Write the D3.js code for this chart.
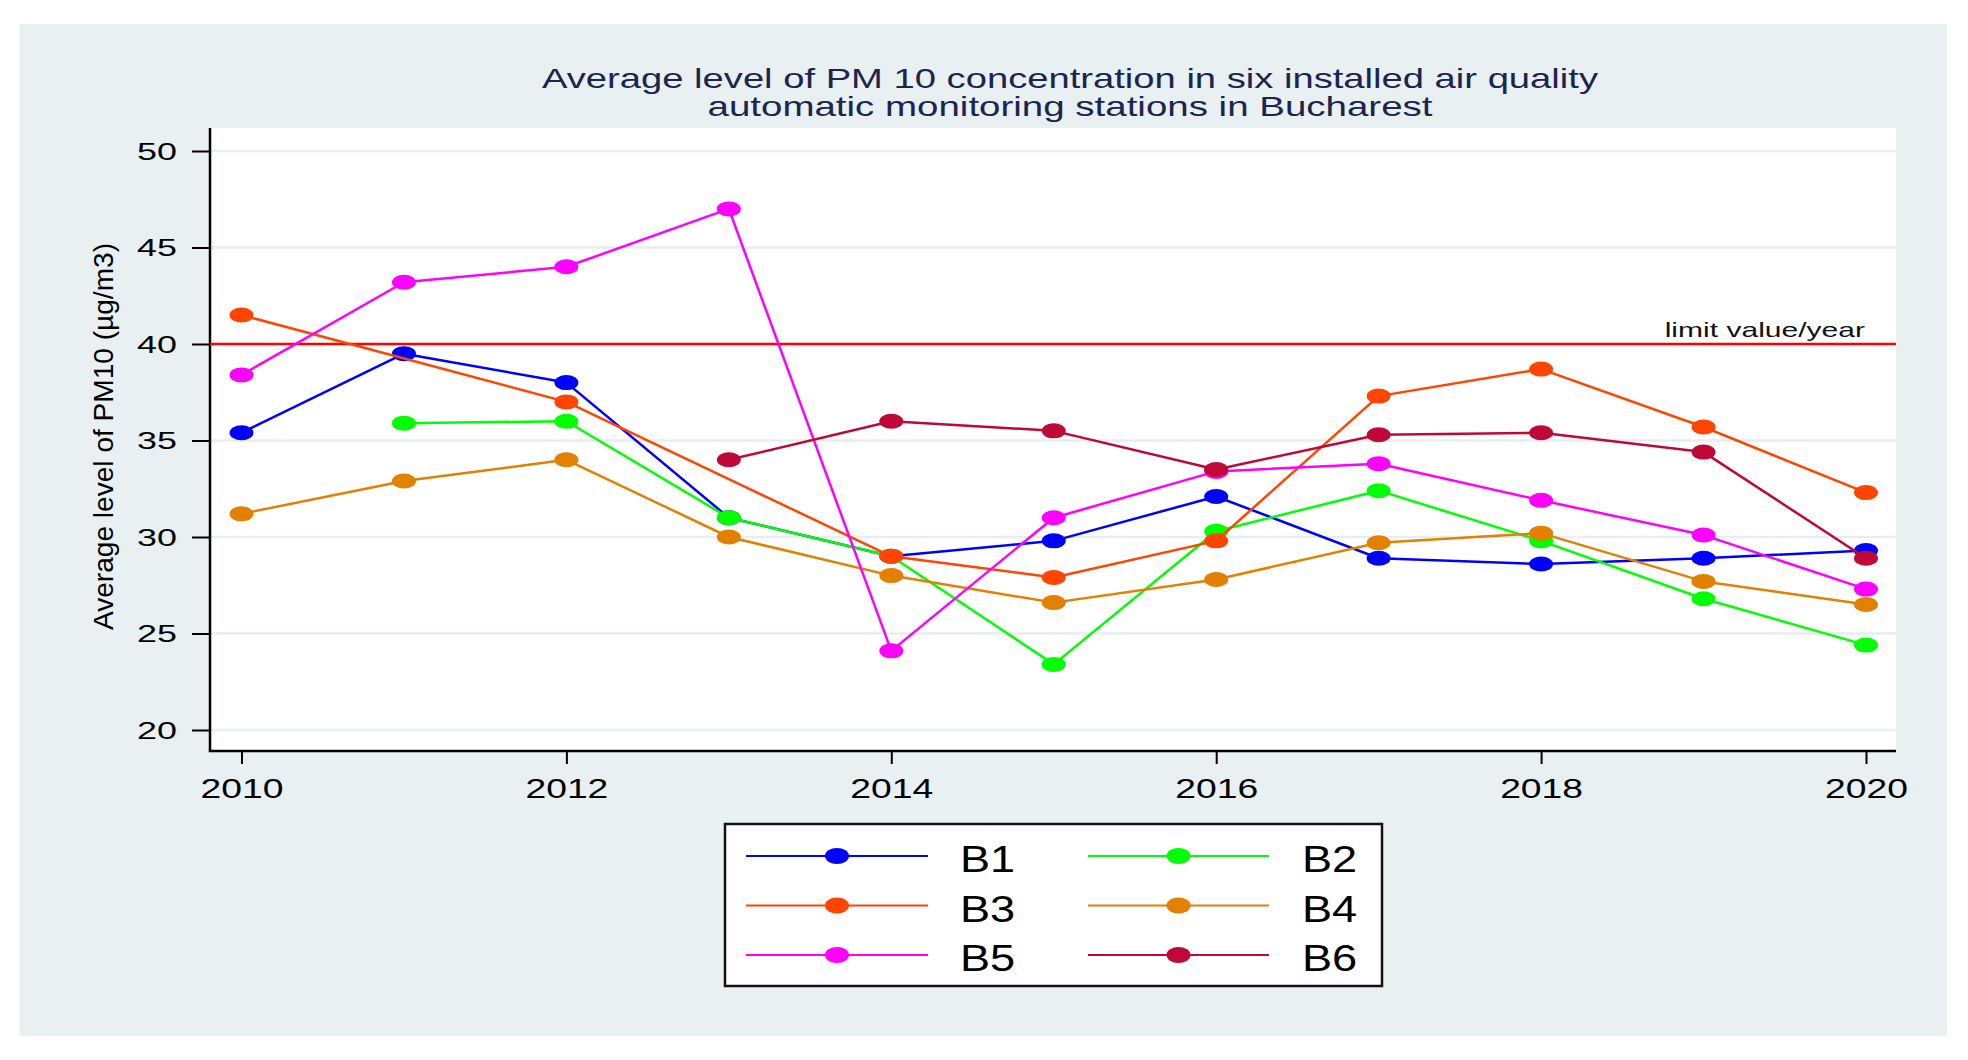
<!DOCTYPE html>
<html>
<head>
<meta charset="utf-8">
<script src="https://cdnjs.cloudflare.com/ajax/libs/d3/7.8.5/d3.min.js"></script>
<style>
  body { margin: 0; background: #fff; }
  svg { display: block; font-family: Arial, 'Liberation Sans', sans-serif; }
</style>
</head>
<body>
<svg id="chart" width="1968" height="1060"></svg>
<script>
const years = [2010, 2011, 2012, 2013, 2014, 2015, 2016, 2017, 2018, 2019, 2020];
const b1 = [35.4, 39.5, 38.0, 31.0, 29.0, 29.8, 32.1, 28.9, 28.6, 28.9, 29.3];
const b2 = [null, 35.9, 36.0, 31.0, 29.0, 23.4, 30.3, 32.4, 29.8, 26.8, 24.4];
const b3 = [41.5, null, 37.0, null, 29.0, 27.9, 29.8, 37.3, 38.7, 35.7, 32.3];
const b4 = [31.2, 32.9, 34.0, 30.0, 28.0, 26.6, 27.8, 29.7, 30.2, 27.7, 26.5];
const b5 = [38.4, 43.2, 44.0, 47.0, 24.1, 31.0, 33.4, 33.8, 31.9, 30.1, 27.3];
const b6 = [null, null, null, 34.0, 36.0, 35.5, 33.5, 35.3, 35.4, 34.4, 28.9];

const seriesNames = ['B1', 'B2', 'B3', 'B4', 'B5', 'B6'];
const seriesValues = [b1, b2, b3, b4, b5, b6];
const seriesColors = ['#0000ff', '#00ff00', '#ff4500', '#e38000', '#ff00ff', '#c00838'];

const xTicks = [2010, 2012, 2014, 2016, 2018, 2020];
const yTicks = [20, 25, 30, 35, 40, 45, 50];
const limitValue = 40;
const limitLabel = 'limit value/year';
const titleLines = [
  'Average level of PM 10 concentration in six installed air quality',
  'automatic monitoring stations in Bucharest'
];
const yLabel = 'Average level of PM10 (\u00b5g/m3)';

let svg = d3.select('#chart');

// widen text the way the source picture is stretched
let stretch = function (sel, k) {
  sel.each(function () {
    let w = this.getComputedTextLength();
    d3.select(this)
      .attr('textLength', w * k)
      .attr('lengthAdjust', 'spacingAndGlyphs');
  });
};

let plot = { left: 210, right: 1896, top: 128, bottom: 751 };

let x = d3.scaleLinear().domain([2010, 2020]).range([241.5, 1866]);
let y = d3.scaleLinear().domain([20, 50]).range([730, 151]);

// backgrounds
svg.append('rect')
  .attr('x', 20).attr('y', 24)
  .attr('width', 1927).attr('height', 1012)
  .attr('fill', '#e8f0f2');

svg.append('rect')
  .attr('x', plot.left).attr('y', plot.top)
  .attr('width', plot.right - plot.left).attr('height', plot.bottom - plot.top)
  .attr('fill', '#ffffff');

// title
svg.append('g')
  .selectAll('text')
  .data(titleLines)
  .join('text')
  .attr('x', 1070)
  .attr('y', (d, i) => 88 + i * 28)
  .attr('text-anchor', 'middle')
  .attr('font-size', 28)
  .attr('fill', '#1c2550')
  .attr('textLength', (d, i) => i === 0 ? 1056 : 725)
  .attr('lengthAdjust', 'spacingAndGlyphs')
  .text(d => d);

// grid
svg.append('g')
  .selectAll('line')
  .data(yTicks)
  .join('line')
  .attr('x1', plot.left).attr('x2', plot.right)
  .attr('y1', d => y(d)).attr('y2', d => y(d))
  .attr('stroke', '#e6eef1')
  .attr('stroke-width', 2.5);

// axes
let yAxis = svg.append('g')
  .attr('transform', 'translate(' + plot.left + ',0)')
  .call(d3.axisLeft(y).tickValues(yTicks).tickSize(18).tickPadding(15));

yAxis.select('.domain').remove();
yAxis.selectAll('line').attr('stroke', '#000').attr('stroke-width', 2);
yAxis.selectAll('text')
  .attr('font-size', 23)
  .attr('font-family', 'Arial, Liberation Sans, sans-serif')
  .attr('fill', '#000')
  .attr('dy', '0.36em')
  .call(stretch, 1.56);

let xAxis = svg.append('g')
  .attr('transform', 'translate(0,' + plot.bottom + ')')
  .call(d3.axisBottom(x).tickValues(xTicks).tickFormat(d3.format('d')).tickSize(13).tickPadding(15));

xAxis.select('.domain').remove();
xAxis.selectAll('line').attr('stroke', '#000').attr('stroke-width', 2);
xAxis.selectAll('text')
  .attr('font-size', 27)
  .attr('font-family', 'Arial, Liberation Sans, sans-serif')
  .attr('fill', '#000')
  .call(stretch, 1.38);

svg.append('path')
  .attr('d', 'M' + plot.left + ',' + plot.top + 'V' + plot.bottom + 'H' + plot.right)
  .attr('fill', 'none')
  .attr('stroke', '#000')
  .attr('stroke-width', 2.5);

svg.append('text')
  .attr('transform', 'translate(113,' + 436.5 + ') rotate(-90)')
  .attr('text-anchor', 'middle')
  .attr('font-size', 27)
  .attr('fill', '#000')
  .attr('textLength', 387)
  .attr('lengthAdjust', 'spacingAndGlyphs')
  .text(yLabel);

// limit value line
svg.append('line')
  .attr('x1', plot.left).attr('x2', plot.right)
  .attr('y1', y(limitValue)).attr('y2', y(limitValue))
  .attr('stroke', '#ff0000')
  .attr('stroke-width', 2.5);

svg.append('text')
  .attr('x', 1865)
  .attr('y', y(limitValue) - 7)
  .attr('text-anchor', 'end')
  .attr('font-size', 21)
  .attr('fill', '#111')
  .text(limitLabel)
  .call(stretch, 1.43);

// series
let line = d3.line().x(d => x(d.year)).y(d => y(d.value));

let series = seriesNames.map((name, i) => ({
  name: name,
  color: seriesColors[i],
  points: years.map((yr, j) => ({ year: yr, value: seriesValues[i][j] }))
    .filter(d => d.value !== null)
}));

series.forEach(s => {
  let g = svg.append('g');

  g.append('path')
    .datum(s.points)
    .attr('d', line)
    .attr('fill', 'none')
    .attr('stroke', s.color)
    .attr('stroke-width', 2.5)
    .attr('stroke-linejoin', 'round');

  g.selectAll('ellipse')
    .data(s.points)
    .join('ellipse')
    .attr('cx', d => x(d.year))
    .attr('cy', d => y(d.value))
    .attr('rx', 12)
    .attr('ry', 7.5)
    .attr('fill', s.color);
});

// legend
let legend = svg.append('g');

legend.append('rect')
  .attr('x', 725).attr('y', 824)
  .attr('width', 657).attr('height', 162)
  .attr('fill', '#fff')
  .attr('stroke', '#111')
  .attr('stroke-width', 2.5);

let cols = [{ x1: 746, x2: 928, label: 960 }, { x1: 1088, x2: 1269, label: 1302 }];
let rowY = d3.scalePoint().domain([0, 1, 2]).range([856, 955]);

let items = legend.selectAll('g.item')
  .data(series)
  .join('g')
  .attr('class', 'item')
  .attr('transform', (d, i) => 'translate(0,' + rowY(Math.floor(i / 2)) + ')');

items.append('line')
  .attr('x1', (d, i) => cols[i % 2].x1)
  .attr('x2', (d, i) => cols[i % 2].x2)
  .attr('stroke', d => d.color)
  .attr('stroke-width', 2);

items.append('ellipse')
  .attr('cx', (d, i) => (cols[i % 2].x1 + cols[i % 2].x2) / 2)
  .attr('rx', 12)
  .attr('ry', 8)
  .attr('fill', d => d.color);

items.append('text')
  .attr('x', (d, i) => cols[i % 2].label)
  .attr('y', 16)
  .attr('font-size', 37)
  .attr('fill', '#000')
  .text(d => d.name)
  .call(stretch, 1.22);
</script>
</body>
</html>
